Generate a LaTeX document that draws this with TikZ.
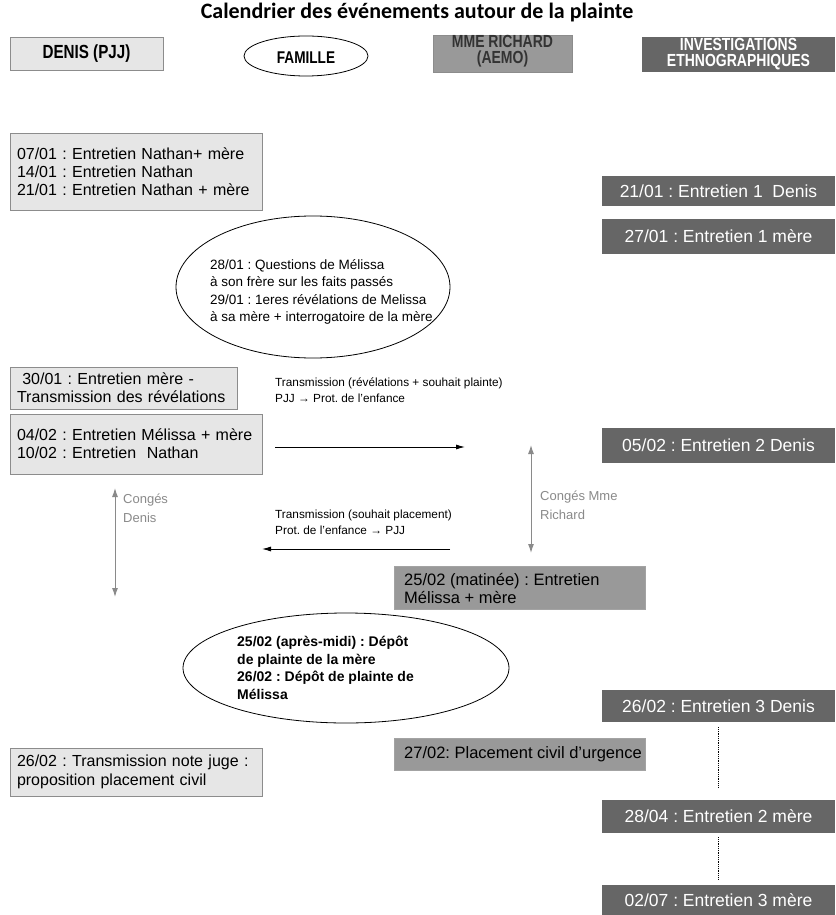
\documentclass[tikz,border=0pt]{standalone}
\usepackage{fontspec}
\setmainfont{Liberation Sans}
\newfontfamily\titlefont{Carlito}
\usetikzlibrary{arrows.meta,shapes.geometric}
\definecolor{lightbox}{HTML}{E6E6E6}
\definecolor{midbox}{HTML}{999999}
\definecolor{darkbox}{HTML}{666666}
\definecolor{boxline}{HTML}{8C8C8C}
\definecolor{congtext}{HTML}{8A8A8A}
\definecolor{headtext}{HTML}{333333}
\frenchspacing
\tikzset{
  lbox/.style={draw=boxline, fill=lightbox, line width=0.8pt, inner sep=0pt, align=left,
    font=\fontsize{16}{18.3}\selectfont},
  mbox/.style={draw=boxline!80, fill=midbox, line width=0.6pt, inner sep=0pt},
  mtext/.style={inner sep=0pt, anchor=west, align=left, font=\fontsize{16.5}{18}\selectfont},
  dbox/.style={fill=darkbox, inner sep=0pt, minimum width=233pt, text=white,
    font=\fontsize{17.5}{18}\selectfont},
  hbox/.style={inner sep=0pt, align=center, font=\bfseries\fontsize{17.5}{16.5}\selectfont},
  oval/.style={ellipse, draw=black, line width=0.8pt, inner sep=0pt},
  ovaltext/.style={inner sep=0pt, align=left, anchor=west, font=\fontsize{13.5}{17.5}\selectfont},
  arrlabel/.style={inner sep=0pt, align=left, anchor=west, font=\fontsize{11.8}{16}\selectfont},
  conglabel/.style={inner sep=0pt, align=left, anchor=west, text=congtext, font=\fontsize{13}{19}\selectfont},
  flow/.style={line width=0.9pt, -{Latex[length=9pt,width=5pt]}},
  congarrow/.style={draw=congtext, line width=1pt, {Latex[length=9pt,width=6pt]}-{Latex[length=9pt,width=6pt]}},
  dotline/.style={line width=0.8pt, densely dotted}
}
\newcommand{\hnarrow}[1]{\scalebox{0.8}[1]{#1}}
\begin{document}
\begin{tikzpicture}[x=1pt,y=-1pt]
\useasboundingbox[fill=white] (0,0) rectangle (835,915);

% title
\node[inner sep=0pt, font=\titlefont\bfseries\fontsize{22}{24}\selectfont] (title) at (417,13) {Calendrier des événements autour de la plainte};

% headers
\node[hbox, draw=boxline, fill=lightbox, line width=0.8pt, minimum width=153pt, minimum height=33pt, font=\bfseries\fontsize{19}{19}\selectfont] (hdenis) at (86.5,53.5) {\hnarrow{DENIS (PJJ)}};
\node[oval, fill=white, minimum width=124pt, minimum height=40pt] (hfam) at (306,56) {};
\node[hbox, font=\bfseries\fontsize{17}{17}\selectfont] (hfamt) at (306,58) {\hnarrow{FAMILLE}};
\node[draw=boxline, fill=midbox, minimum width=139pt, minimum height=37pt, inner sep=0pt] (hrich) at (502.5,53.5) {};
\node[hbox, text=headtext] (hricht) at (502.5,51) {\hnarrow{MME RICHARD}\\\hnarrow{(AEMO)}};
\node[fill=darkbox, minimum width=193pt, minimum height=35pt, inner sep=0pt] (hinv) at (738.5,54.5) {};
\node[hbox, text=white] (hinvt) at (738.5,54) {\hnarrow{INVESTIGATIONS}\\\hnarrow{ETHNOGRAPHIQUES}};

% left column
\node[lbox, minimum width=252pt, minimum height=77pt, text width=238pt] (b1) at (136,171.5)
  {07/01 : Entretien Nathan+ mère\\14/01 : Entretien Nathan\\21/01 : Entretien Nathan + mère};
\node[lbox, minimum width=227pt, minimum height=42pt, text width=213pt] (b2) at (123.5,388)
  {\ 30/01 : Entretien mère -\\Transmission des révélations};
\node[lbox, minimum width=252pt, minimum height=60pt, text width=238pt] (b3) at (136,444)
  {04/02 : Entretien Mélissa + mère\\10/02 : Entretien\ \ Nathan\\[6pt]};
\node[lbox, minimum width=252pt, minimum height=48pt, text width=238pt] (b4) at (136,772)
  {26/02 : Transmission note juge :\\proposition placement civil};

% right column
\node[dbox, minimum height=30pt] (r1) at (718.5,191) {21/01 : Entretien 1\ \ Denis};
\node[dbox, minimum height=35pt] (r2) at (718.5,236.5) {27/01 : Entretien 1 mère};
\node[dbox, minimum height=35pt] (r3) at (718.5,445.5) {05/02 : Entretien 2 Denis};
\node[dbox, minimum height=32pt] (r4) at (718.5,706) {26/02 : Entretien 3 Denis};
\node[dbox, minimum height=33pt] (r5) at (718.5,816.5) {28/04 : Entretien 2 mère};
\node[dbox, minimum height=30pt] (r6) at (718.5,900) {02/07 : Entretien 3 mère};

% middle column
\node[mbox, minimum width=251pt, minimum height=43pt] (m1) at (519.5,587.5) {};
\node[mtext] (m1t) at (404,588) {25/02 (matinée) : Entretien\\Mélissa + mère};
\node[mbox, minimum width=251pt, minimum height=32pt] (m2) at (519.5,754) {};
\node[mtext] (m2t) at (404,754) {27/02: Placement civil d'urgence};

% family ellipses
\node[oval, minimum width=274pt, minimum height=142pt] (e1) at (313,287) {};
\node[ovaltext] (e1t) at (210,292)
  {28/01 : Questions de Mélissa\\à son frère sur les faits passés\\29/01 : 1eres révélations de Melissa\\à sa mère + interrogatoire de la mère};
\node[oval, minimum width=326pt, minimum height=110pt] (e2) at (346,668) {};
\node[ovaltext, font=\bfseries\fontsize{14}{17.5}\selectfont] (e2t) at (237,668)
  {25/02 (après-midi) : Dépôt\\de plainte de la mère\\26/02 : Dépôt de plainte de\\Mélissa};

% transmissions
\node[arrlabel] (t1) at (275,390) {Transmission (révélations + souhait plainte)\\PJJ → Prot. de l'enfance};
\coordinate (t1s) at (275,447);
\coordinate (t1e) at (465,447);
\draw[flow] (t1s) -- (t1e);

\node[arrlabel] (t2) at (275,522) {Transmission (souhait placement)\\Prot. de l'enfance → PJJ};
\coordinate (t2s) at (450,549);
\coordinate (t2e) at (262,549);
\draw[flow] (t2s) -- (t2e);

% congés
\coordinate (cd1) at (115,488);
\coordinate (cd2) at (115,597);
\draw[congarrow] (cd1) -- (cd2);
\node[conglabel] (cdl) at (123,508) {Congés\\Denis};

\coordinate (cr1) at (531,445);
\coordinate (cr2) at (531,553);
\draw[congarrow] (cr1) -- (cr2);
\node[conglabel] (crl) at (540,505) {Congés Mme\\Richard};

% dotted links
\draw[dotline] ([yshift=-5pt]r4.south) -- ([yshift=12pt]r5.north);
\draw[dotline] ([yshift=-4pt]r5.south) -- ([yshift=6pt]r6.north);
\end{tikzpicture}
\end{document}
